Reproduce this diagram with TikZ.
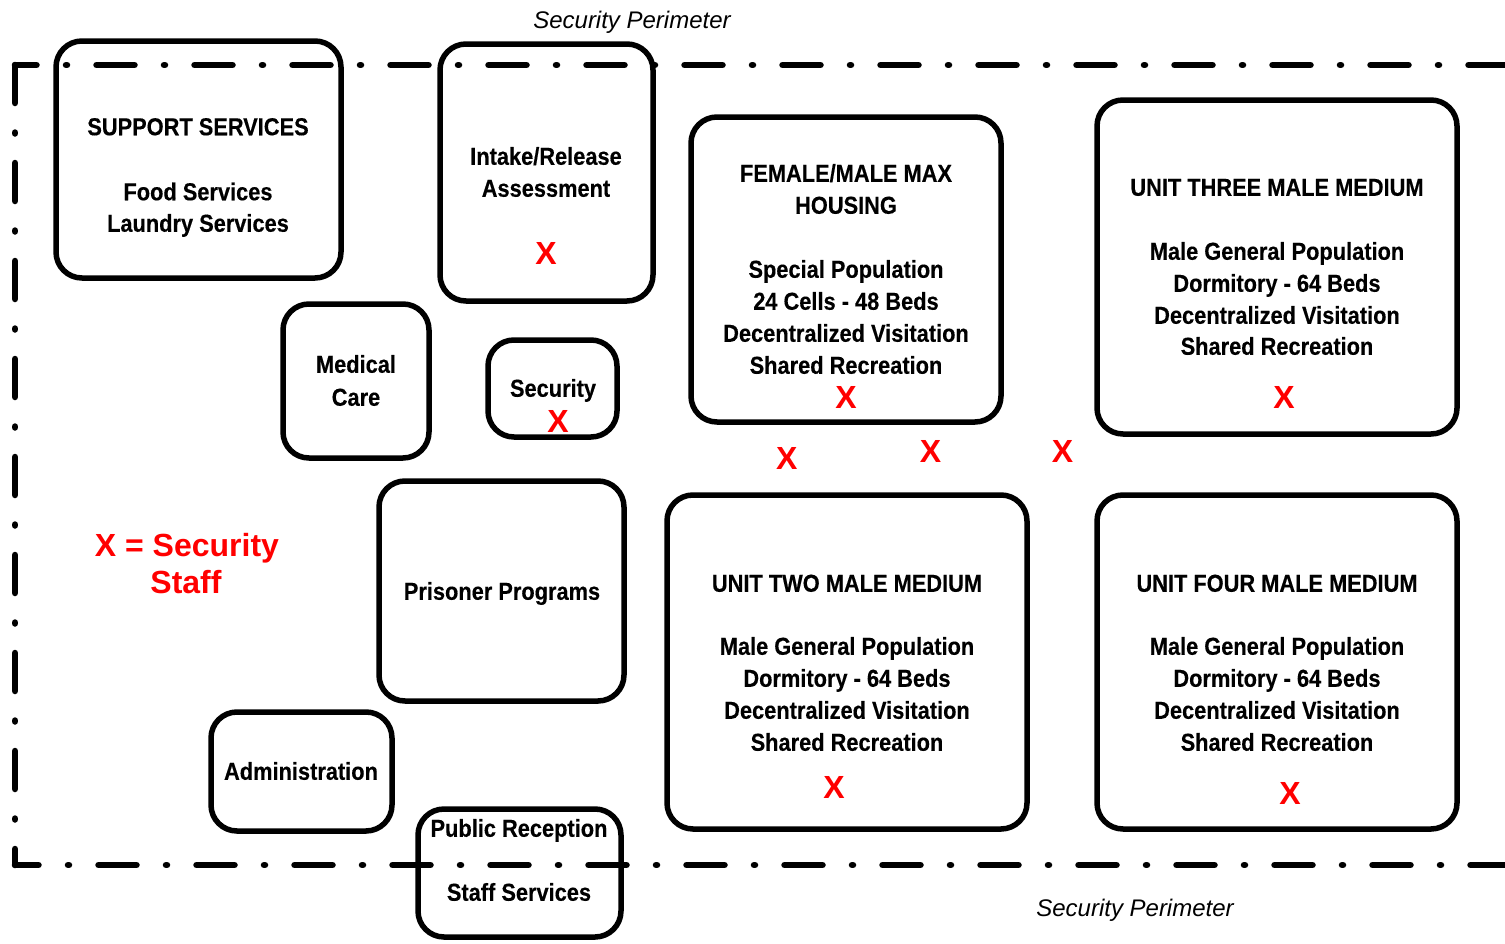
\documentclass[tikz,border=0pt]{standalone}
\usepackage{fontspec}
\setmainfont{Liberation Sans}
\newfontfamily\nb{Liberation Sans}[FakeStretch=0.89, FakeBold=0.3]
\begin{document}
\begin{tikzpicture}[x=1pt,y=-1pt,
  box/.style={draw, line width=5.5pt, rounded corners=26pt, inner sep=0pt},
  txt/.style={font=\nb\bfseries\fontsize{24.5}{24.5}\selectfont, inner sep=0pt, text height=17.5pt, text depth=0pt},
  redx/.style={font=\bfseries\fontsize{32}{32}\selectfont, text=red, inner sep=0pt, text height=23pt, text depth=0pt},
  legend/.style={font=\bfseries\fontsize{32}{32}\selectfont, text=red, inner sep=0pt, text height=23pt, text depth=0pt},
  perimlabel/.style={font=\itshape\fontsize{24}{24}\selectfont, inner sep=0pt, text height=17pt, text depth=0pt},
  perim/.style={line width=6.5pt, line cap=round, dash pattern=on 38pt off 29.5pt on 1pt off 29.5pt}]
\useasboundingbox (0,0) rectangle (1505,943);
\fill[white] (0,0) rectangle (1505,943);

% security perimeter
\coordinate (pTL) at (15,65);
\coordinate (pTR) at (1515,65);
\coordinate (pBL) at (15,865);
\coordinate (pBR) at (1515,865);
\draw[perim, dash phase=16.5pt] (pTL) -- (pTR);
\draw[perim] (pTL) -- (pBL);
\draw[perim, dash phase=14.5pt] (pBL) -- (pBR);
\node[perimlabel] (pl1) at (632,20) {Security Perimeter};
\node[perimlabel] (pl2) at (1135,908) {Security Perimeter};

% boxes
\node[box, minimum width=285pt, minimum height=237pt] (sup) at (198.5,159.5) {};
\node[box, minimum width=213pt, minimum height=257pt] (intake) at (546.5,172.5) {};
\node[box, minimum width=310pt, minimum height=305pt] (fem) at (846,269.5) {};
\node[box, minimum width=360pt, minimum height=334pt] (u3) at (1277,267) {};
\node[box, minimum width=146pt, minimum height=154pt] (med) at (356,381) {};
\node[box, minimum width=129pt, minimum height=97pt] (sec) at (552.5,388.5) {};
\node[box, minimum width=245pt, minimum height=220pt] (prog) at (501.5,591) {};
\node[box, minimum width=360pt, minimum height=334pt] (u2) at (847,662) {};
\node[box, minimum width=360pt, minimum height=334pt] (u4) at (1277,662) {};
\node[box, minimum width=181pt, minimum height=119pt] (adm) at (301.5,771.5) {};
\node[box, minimum width=203pt, minimum height=128pt] (pub) at (519.5,873) {};

% texts
\node[txt] (sup1) at (198,126.5) {SUPPORT SERVICES};
\node[txt] (sup2) at (198,191.5) {Food Services};
\node[txt] (sup3) at (198,223) {Laundry Services};

\node[txt] (in1) at (546,156) {Intake/Release};
\node[txt] (in2) at (546,188) {Assessment};

\node[txt] (f1) at (846,173) {FEMALE/MALE MAX};
\node[txt] (f2) at (846,205) {HOUSING};
\node[txt] (f3) at (846,269) {Special Population};
\node[txt] (f4) at (846,301) {24 Cells - 48 Beds};
\node[txt] (f5) at (846,333) {Decentralized Visitation};
\node[txt] (f6) at (846,365) {Shared Recreation};

\node[txt] (t1) at (1277,187) {UNIT THREE MALE MEDIUM};
\node[txt] (t2) at (1277,251) {Male General Population};
\node[txt] (t3) at (1277,283) {Dormitory - 64 Beds};
\node[txt] (t4) at (1277,315) {Decentralized Visitation};
\node[txt] (t5) at (1277,346) {Shared Recreation};

\node[txt] (m1) at (356,364) {Medical};
\node[txt] (m2) at (356,397) {Care};

\node[txt] (s1) at (553,388) {Security};

\node[txt] (pp1) at (502,591) {Prisoner Programs};

\node[txt] (w1) at (847,583) {UNIT TWO MALE MEDIUM};
\node[txt] (w2) at (847,646) {Male General Population};
\node[txt] (w3) at (847,678) {Dormitory - 64 Beds};
\node[txt] (w4) at (847,710) {Decentralized Visitation};
\node[txt] (w5) at (847,742) {Shared Recreation};

\node[txt] (r1) at (1277,583) {UNIT FOUR MALE MEDIUM};
\node[txt] (r2) at (1277,646) {Male General Population};
\node[txt] (r3) at (1277,678) {Dormitory - 64 Beds};
\node[txt] (r4) at (1277,710) {Decentralized Visitation};
\node[txt] (r5) at (1277,742) {Shared Recreation};

\node[txt] (a1) at (301,771) {Administration};

\node[txt] (pr1) at (519,828) {Public Reception};
\node[txt] (pr2) at (519,892) {Staff Services};

% legend
\node[legend] (lg1) at (187,545) {X = Security};
\node[legend] (lg2) at (186,582) {Staff};

% security staff marks
\node[redx] (x1) at (546,253) {X};
\node[redx] (x2) at (558,421) {X};
\node[redx] (x3) at (846,397) {X};
\node[redx] (x4) at (1284,397) {X};
\node[redx] (x5) at (786.7,457.5) {X};
\node[redx] (x6) at (930.5,451) {X};
\node[redx] (x7) at (1062.5,451) {X};
\node[redx] (x8) at (834,787) {X};
\node[redx] (x9) at (1290,793) {X};
\end{tikzpicture}
\end{document}
